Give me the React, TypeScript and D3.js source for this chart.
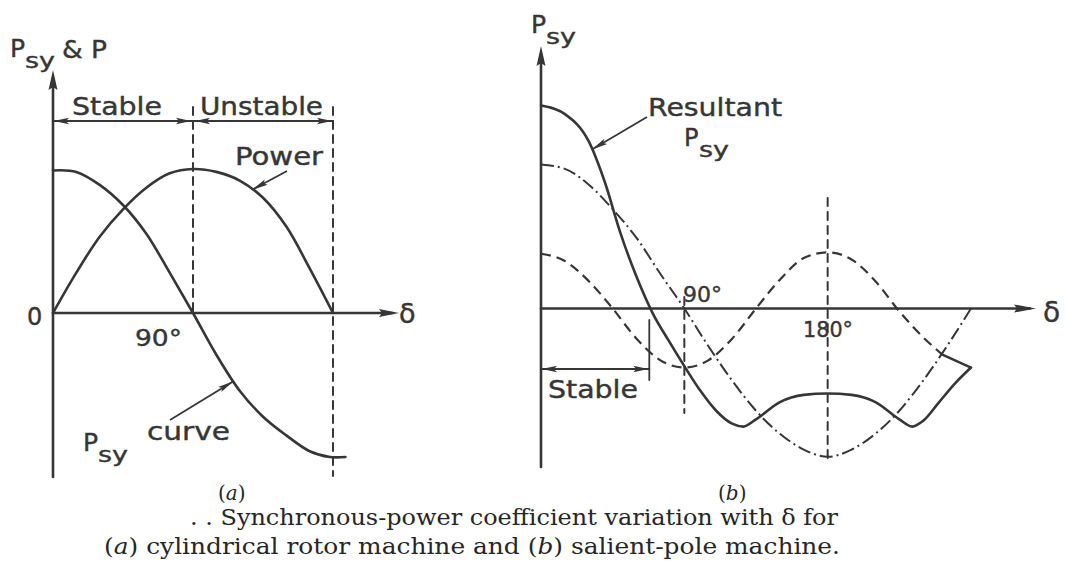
import React from "react";
import * as d3 from "d3";

// ---------- (a) cylindrical rotor machine ----------
const powerDeg = [0, 15, 30, 45, 60, 75, 90, 105, 120, 135, 150, 165, 180];
const powerVal = [0, 0.28, 0.53, 0.72, 0.87, 0.97, 1.0, 0.98, 0.92, 0.8, 0.6, 0.31, 0];

const psyADeg = [0, 15, 30, 45, 60, 75, 90, 105, 120, 135, 150, 165, 178, 188];
const psyAVal = [0.99, 0.98, 0.89, 0.75, 0.55, 0.28, 0, -0.29, -0.54, -0.72, -0.85, -0.96, -1.0, -1.0];

const tickLabelsA = ["0", "90°"];

// ---------- (b) salient-pole machine ----------
const resultantDeg = [0, 15, 30, 40, 50, 60, 70, 80, 90, 100, 110, 120, 127, 135, 150, 165, 180, 195, 210, 225, 233, 240, 250, 260, 270];
const resultantVal = [1.41, 1.35, 1.16, 0.88, 0.52, 0.22, -0.03, -0.22, -0.4, -0.57, -0.71, -0.8, -0.82, -0.77, -0.65, -0.6, -0.59, -0.6, -0.65, -0.77, -0.82, -0.78, -0.65, -0.52, -0.41];

const fieldDeg = [0, 15, 30, 45, 60, 75, 90, 105, 120, 135, 150, 165, 180, 195, 210, 225, 240, 255, 270];
const fieldVal = [1.0, 0.97, 0.86, 0.69, 0.49, 0.24, 0, -0.26, -0.5, -0.71, -0.87, -0.98, -1.03, -0.98, -0.87, -0.71, -0.5, -0.26, 0];

const reluctDeg = [0, 15, 30, 45, 60, 75, 90, 105, 120, 135, 150, 165, 180, 195, 210, 225, 240, 252];
const reluctVal = [0.38, 0.33, 0.19, 0, -0.21, -0.36, -0.41, -0.36, -0.21, 0, 0.2, 0.35, 0.39, 0.34, 0.19, -0.02, -0.2, -0.32];

const stableLimitDeg = 68;
const tickLabelsB = ["90°", "180°"];

const INK = "#363636";
const SANS = "'DejaVu Sans', 'Liberation Sans', sans-serif";
const SERIF = "'DejaVu Serif', 'Liberation Serif', serif";

const xA = d3.scaleLinear().domain([0, 180]).range([53, 333]);
const yA = d3.scaleLinear().domain([-1, 1]).range([457, 169]);
const xB = d3.scaleLinear().domain([0, 270]).range([541, 971]);
const yB = d3.scaleLinear().domain([-1, 1]).range([452.5, 164.5]);

type Pt = [number, number];
const zipPts = (deg: number[], val: number[]): Pt[] => deg.map((d, i) => [d, val[i]]);

function valueAt(deg: number[], val: number[], d: number): number {
  const i = d3.bisectLeft(deg, d);
  if (i <= 0) return val[0];
  if (i >= deg.length) return val[val.length - 1];
  const t = (d - deg[i - 1]) / (deg[i] - deg[i - 1]);
  return val[i - 1] + t * (val[i] - val[i - 1]);
}

function lineFor(
  x: d3.ScaleLinear<number, number>,
  y: d3.ScaleLinear<number, number>,
  curve: d3.CurveFactory = d3.curveMonotoneX
) {
  return d3
    .line<Pt>()
    .x((p) => x(p[0]))
    .y((p) => y(p[1]))
    .curve(curve);
}

// filled slender arrowhead, tip at (x, y) pointing along direction (dx, dy)
function Head({ x, y, dx, dy, len = 15, w = 3.2 }: { x: number; y: number; dx: number; dy: number; len?: number; w?: number }) {
  const m = Math.hypot(dx, dy);
  const ux = dx / m, uy = dy / m;
  const bx = x - ux * len, by = y - uy * len;
  const pts = [
    [x, y],
    [bx - uy * w, by + ux * w],
    [bx + ux * 3, by + uy * 3],
    [bx + uy * w, by - ux * w],
  ];
  return <polygon points={pts.map((p) => p.join(",")).join(" ")} fill={INK} />;
}

function Pointer({ from, to }: { from: Pt; to: Pt }) {
  return (
    <g>
      <line x1={from[0]} y1={from[1]} x2={to[0]} y2={to[1]} stroke={INK} strokeWidth={1.8} />
      <Head x={to[0]} y={to[1]} dx={to[0] - from[0]} dy={to[1] - from[1]} len={16} w={3} />
    </g>
  );
}

function Psy({ x, y, size = 25 }: { x: number; y: number; size?: number }) {
  return (
    <g fill={INK} stroke={INK} strokeWidth={0.4} fontFamily={SANS}>
      <text x={x} y={y} fontSize={size}>P</text>
      <text x={x + 15} y={y + 11} fontSize={size * 0.85} textLength={30} lengthAdjust="spacingAndGlyphs">sy</text>
    </g>
  );
}

export default function App() {
  const lineA = lineFor(xA, yA, d3.curveCatmullRom.alpha(0.5));
  const lineB = lineFor(xB, yB);

  const powerPath = lineA(zipPts(powerDeg, powerVal)) || "";
  const psyAPath = lineA(zipPts(psyADeg, psyAVal)) || "";
  const resPath = lineB(zipPts(resultantDeg, resultantVal)) || "";
  const fieldPath = lineB(zipPts(fieldDeg, fieldVal)) || "";
  const relPath = lineB(zipPts(reluctDeg, reluctVal)) || "";

  const y0A = yA(0);
  const y0B = yB(0);

  const powerTip: Pt = [xA(128), yA(valueAt(powerDeg, powerVal, 128))];
  const psyTip: Pt = [xA(116), yA(valueAt(psyADeg, psyAVal, 116))];
  const resTip: Pt = [xB(32), yB(valueAt(resultantDeg, resultantVal, 32))];

  const resEnd: Pt = [xB(resultantDeg[resultantDeg.length - 1]), yB(resultantVal[resultantVal.length - 1])];
  const relEnd: Pt = [xB(reluctDeg[reluctDeg.length - 1]), yB(reluctVal[reluctVal.length - 1])];

  const bracketY = 121;
  const stableY = 369;

  return (
    <svg
      width={1065}
      height={587}
      viewBox="0 0 1065 587"
      style={{ position: "fixed", left: 0, top: 0, background: "#ffffff" }}
    >
      <rect width={1065} height={587} fill="#ffffff" />

      {/* ================= panel (a) ================= */}
      <g stroke={INK} fill="none" strokeLinecap="round">
        {/* axes */}
        <line x1={xA(0)} y1={477} x2={xA(0)} y2={78} strokeWidth={2.6} />
        <line x1={xA(0)} y1={y0A} x2={392} y2={y0A} strokeWidth={2.6} />
        {/* guide lines at 90° and 180° */}
        <line x1={xA(90)} y1={107} x2={xA(90)} y2={y0A} strokeWidth={2} strokeDasharray="8 6" />
        <line x1={xA(180)} y1={107} x2={xA(180)} y2={476} strokeWidth={2} strokeDasharray="8 6" />
        {/* stable / unstable bracket */}
        <line x1={xA(0)} y1={bracketY} x2={xA(180)} y2={bracketY} strokeWidth={1.8} />
        {/* curves */}
        <path d={powerPath} strokeWidth={2.6} />
        <path d={psyAPath} strokeWidth={2.6} />
      </g>
      <Head x={xA(0)} y={70} dx={0} dy={-1} len={20} w={4.5} />
      <Head x={399} y={y0A} dx={1} dy={0} len={20} w={4} />
      <Head x={xA(0) + 1} y={bracketY} dx={-1} dy={0} />
      <Head x={xA(90) - 2} y={bracketY} dx={1} dy={0} />
      <Head x={xA(90) + 2} y={bracketY} dx={-1} dy={0} />
      <Head x={xA(180) - 1} y={bracketY} dx={1} dy={0} />
      <Pointer from={[287, 171]} to={powerTip} />
      <Pointer from={[170, 420]} to={psyTip} />

      <g fill={INK} stroke={INK} strokeWidth={0.4} fontFamily={SANS}>
        <text x={62} y={58} fontSize={24} textLength={45} lengthAdjust="spacingAndGlyphs">& P</text>
        <text x={72} y={115} fontSize={24} textLength={90} lengthAdjust="spacingAndGlyphs">Stable</text>
        <text x={200} y={115} fontSize={24} textLength={123} lengthAdjust="spacingAndGlyphs">Unstable</text>
        <text x={235} y={165} fontSize={24} textLength={88} lengthAdjust="spacingAndGlyphs">Power</text>
        <text x={27} y={325} fontSize={24}>{tickLabelsA[0]}</text>
        <text x={135} y={346} fontSize={23} textLength={47} lengthAdjust="spacingAndGlyphs">{tickLabelsA[1]}</text>
        <text x={399} y={323} fontSize={27}>δ</text>
        <text x={147} y={440} fontSize={24} textLength={83} lengthAdjust="spacingAndGlyphs">curve</text>
      </g>
      <Psy x={10} y={57} />
      <Psy x={83} y={451} />

      {/* ================= panel (b) ================= */}
      <g stroke={INK} fill="none" strokeLinecap="round">
        <line x1={xB(0)} y1={467} x2={xB(0)} y2={55} strokeWidth={2.6} />
        <line x1={xB(0)} y1={y0B} x2={1030} y2={y0B} strokeWidth={2.6} />
        <line x1={xB(90)} y1={297} x2={xB(90)} y2={413} strokeWidth={2} strokeDasharray="8 6" />
        <line x1={xB(180)} y1={198} x2={xB(180)} y2={460} strokeWidth={2} strokeDasharray="8 6" />
        {/* stable range */}
        <line x1={xB(0)} y1={stableY} x2={xB(stableLimitDeg)} y2={stableY} strokeWidth={1.8} />
        <line x1={xB(stableLimitDeg)} y1={320} x2={xB(stableLimitDeg)} y2={380} strokeWidth={1.8} />
        {/* field component, reluctance component and resultant */}
        <path d={fieldPath} strokeWidth={2} strokeDasharray="13 4 2 4" strokeLinecap="butt" />
        <path d={relPath} strokeWidth={2.2} strokeDasharray="10 6" strokeLinecap="butt" />
        <path d={resPath} strokeWidth={2.6} strokeLinejoin="round" />
        <line x1={resEnd[0]} y1={resEnd[1]} x2={relEnd[0]} y2={relEnd[1]} strokeWidth={2.4} />
      </g>
      <Head x={xB(0)} y={46} dx={0} dy={-1} len={20} w={4.5} />
      <Head x={1036} y={y0B} dx={1} dy={0} len={22} w={4} />
      <Head x={xB(0) + 1} y={stableY} dx={-1} dy={0} />
      <Head x={xB(stableLimitDeg) - 1} y={stableY} dx={1} dy={0} />
      <Pointer from={[647, 117]} to={resTip} />

      <g fill={INK} stroke={INK} strokeWidth={0.4} fontFamily={SANS}>
        <text x={648} y={116} fontSize={24} textLength={134} lengthAdjust="spacingAndGlyphs">Resultant</text>
        <text x={548} y={398} fontSize={24} textLength={90} lengthAdjust="spacingAndGlyphs">Stable</text>
        <text x={683} y={302} fontSize={22} textLength={39} lengthAdjust="spacingAndGlyphs">{tickLabelsB[0]}</text>
        <text x={803} y={337} fontSize={22} textLength={50} lengthAdjust="spacingAndGlyphs">{tickLabelsB[1]}</text>
        <text x={1043} y={322} fontSize={28}>δ</text>
      </g>
      <Psy x={531} y={33} />
      <Psy x={684} y={146} size={24} />

      {/* ================= caption ================= */}
      <g fill="#262626" fontFamily={SERIF}>
        <text x={218} y={500} fontSize={20}>(<tspan fontStyle="italic">a</tspan>)</text>
        <text x={718} y={500} fontSize={20}>(<tspan fontStyle="italic">b</tspan>)</text>
        <text x={190} y={525} fontSize={23} textLength={648} lengthAdjust="spacingAndGlyphs">
          . . Synchronous-power coefficient variation with δ for
        </text>
        <text x={104} y={554} fontSize={23} textLength={736} lengthAdjust="spacingAndGlyphs">
          (<tspan fontStyle="italic">a</tspan>) cylindrical rotor machine and (<tspan fontStyle="italic">b</tspan>) salient-pole machine.
        </text>
      </g>
    </svg>
  );
}
